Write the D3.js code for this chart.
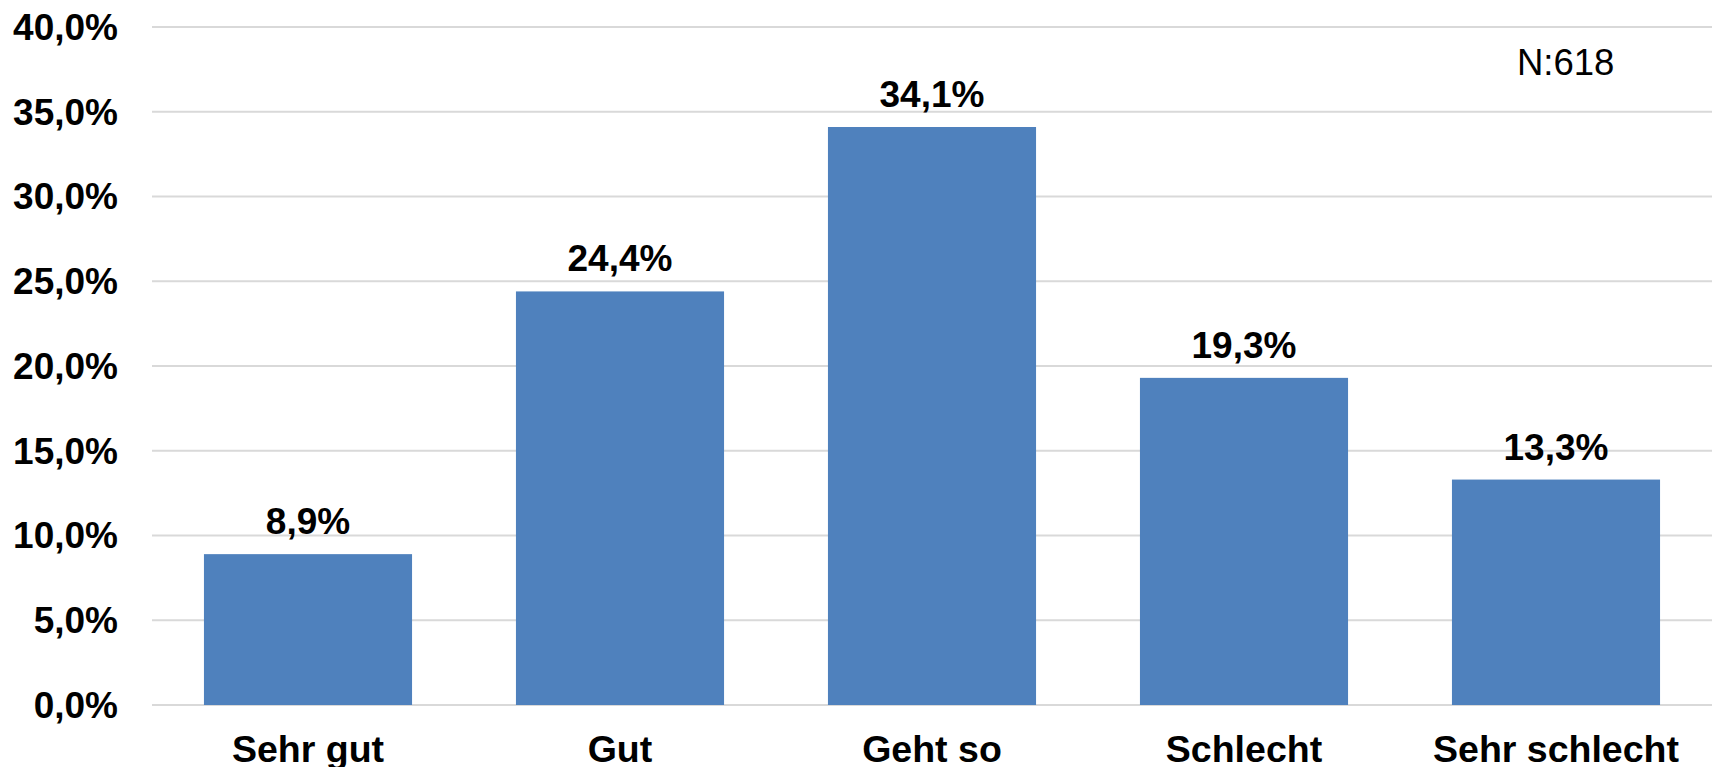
<!DOCTYPE html>
<html>
<head>
<meta charset="utf-8">
<script src="https://cdn.jsdelivr.net/npm/d3@7"></script>
<style>
  html, body { margin: 0; padding: 0; background: #fff; }
  svg { display: block; font-family: "Liberation Sans", Arial, sans-serif; }
</style>
</head>
<body>
<script>
(function () {
    // Data
    const categories = ["Sehr gut", "Gut", "Geht so", "Schlecht", "Sehr schlecht"];
    const values = [8.9, 24.4, 34.1, 19.3, 13.3];
    const yTicks = [0, 5, 10, 15, 20, 25, 30, 35, 40];
    const sampleNote = "N:618";

    const W = 1712, H = 767;
    const plot = { left: 152, right: 1712, top: 27, bottom: 705 };

    const svg = d3.select("body").append("svg")
        .attr("width", W)
        .attr("height", H);

    // German number format: comma as decimal separator
    const fmt = v => d3.format(".1f")(v).replace(".", ",") + "%";

    const x = d3.scaleBand()
        .domain(categories)
        .range([plot.left, plot.right])
        .paddingInner(0.333)
        .paddingOuter(0.1665);

    const y = d3.scaleLinear()
        .domain([0, 40])
        .range([plot.bottom, plot.top]);

    // gridlines
    svg.append("g")
        .selectAll("line")
        .data(yTicks)
        .join("line")
        .attr("x1", plot.left)
        .attr("x2", plot.right)
        .attr("y1", d => y(d))
        .attr("y2", d => y(d))
        .attr("stroke", "#d9d9d9")
        .attr("stroke-width", 2);

    // y tick labels
    svg.append("g")
        .selectAll("text")
        .data(yTicks)
        .join("text")
        .attr("x", 118)
        .attr("y", d => y(d))
        .attr("dy", "0.35em")
        .attr("text-anchor", "end")
        .attr("font-size", "37px")
        .attr("font-weight", "bold")
        .attr("fill", "#000")
        .text(d => fmt(d));

    // bars
    svg.append("g")
        .selectAll("rect")
        .data(values)
        .join("rect")
        .attr("x", (d, i) => x(categories[i]))
        .attr("y", d => y(d))
        .attr("width", x.bandwidth())
        .attr("height", d => y(0) - y(d))
        .attr("fill", "#4f81bd");

    // value labels
    svg.append("g")
        .selectAll("text")
        .data(values)
        .join("text")
        .attr("x", (d, i) => x(categories[i]) + x.bandwidth() / 2)
        .attr("y", d => y(d) - 20)
        .attr("text-anchor", "middle")
        .attr("font-size", "37px")
        .attr("font-weight", "bold")
        .attr("fill", "#000")
        .text(d => fmt(d));

    // category labels (bottom edge clips descenders, as in the reference)
    svg.append("g")
        .selectAll("text")
        .data(categories)
        .join("text")
        .attr("x", d => x(d) + x.bandwidth() / 2)
        .attr("y", 762)
        .attr("text-anchor", "middle")
        .attr("font-size", "37.5px")
        .attr("font-weight", "bold")
        .attr("fill", "#000")
        .text(d => d);

    // sample size note
    svg.append("text")
        .attr("x", 1517)
        .attr("y", 75)
        .attr("font-size", "36.5px")
        .attr("fill", "#000")
        .text(sampleNote);
})();
</script>
</body>
</html>
